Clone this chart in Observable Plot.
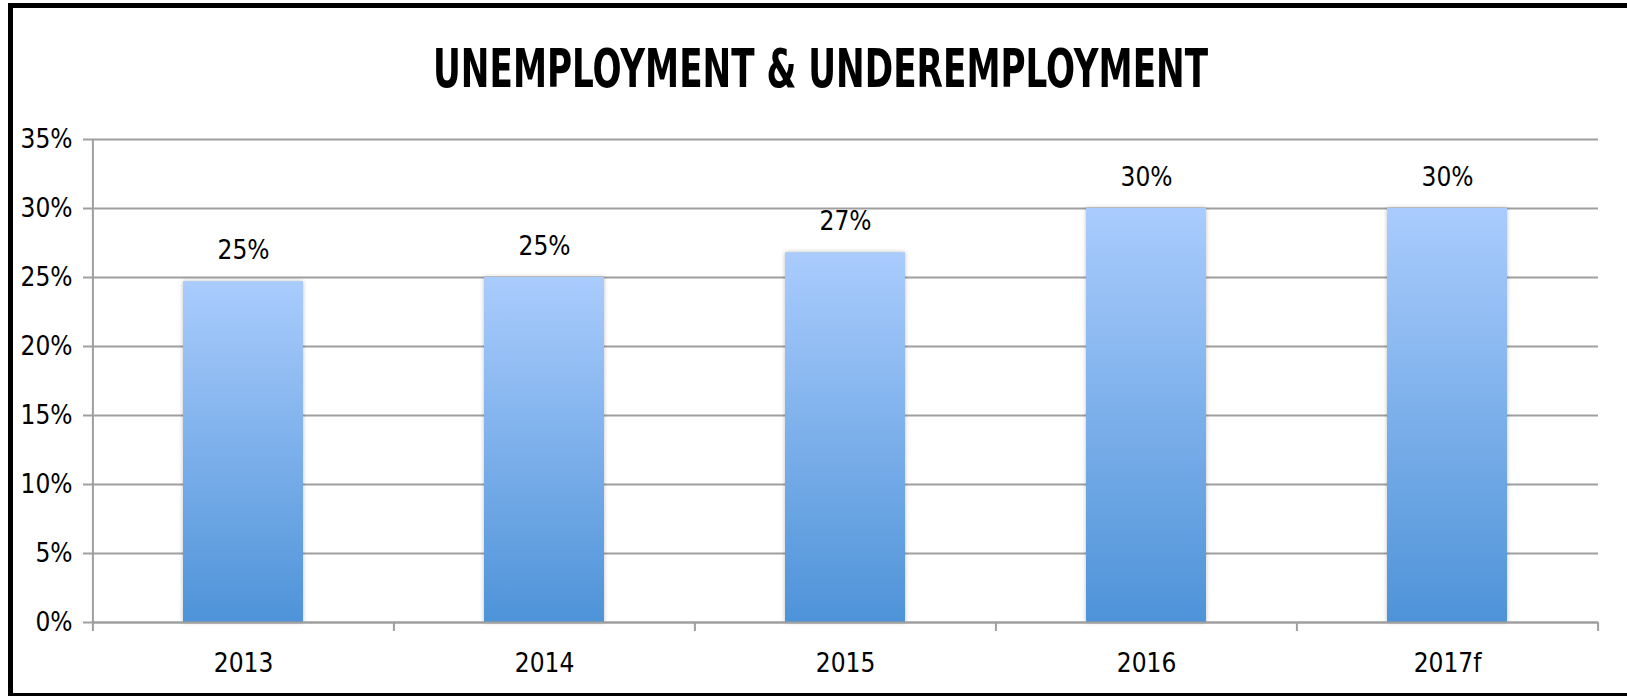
<!DOCTYPE html>
<html>
<head>
<meta charset="utf-8">
<script src="https://cdn.jsdelivr.net/npm/d3@7"></script>
<script src="https://cdn.jsdelivr.net/npm/@observablehq/plot@0.6"></script>
<style>
  html, body { margin: 0; padding: 0; background: #fff; overflow: hidden; width: 1627px; height: 696px; }
  #frame { position: absolute; left: 8px; top: 3px; width: 1700px; height: 695px; box-sizing: border-box; border: 5px solid #000; z-index: 10; pointer-events: none; background: transparent; }
  #chart { position: absolute; left: 0; top: 0; width: 1627px; z-index: 1; }
  #title { position: relative; height: 110px; width: 1641px; text-align: center; }
  #title span { position: absolute; left: 0; width: 1641px; top: 42px; display: block;
    font-family: "DejaVu Sans Condensed", "DejaVu Sans", sans-serif; font-stretch: condensed;
    font-weight: bold; font-size: 53px; line-height: 53px; color: #000; white-space: nowrap; }
  #title span i { font-style: normal; display: inline-block; transform-origin: center; }
</style>
</head>
<body>
<div id="chart">
  <div id="title"><span><i id="titletext">UNEMPLOYMENT &amp; UNDEREMPLOYMENT</i></span></div>
  <div id="plot"></div>
</div>
<div id="frame"></div>
<script>
const years = ["2013", "2014", "2015", "2016", "2017f"];
const values = [24.7, 25.0, 26.8, 30.0, 30.0];
const yTicks = [0, 5, 10, 15, 20, 25, 30, 35];

const data = years.map((year, i) => ({year, value: values[i], label: Math.round(values[i]) + "%"}));

const W = 1627, H = 586, mL = 92, mR = 29, mT = 29, mB = 74;
const step = (W - mL - mR) / years.length;
const gridColor = "#9f9f9f";
const font = "'Liberation Sans Narrow', 'DejaVu Sans Condensed', sans-serif";

const plot = Plot.plot({
  width: W, height: H,
  marginLeft: mL, marginRight: mR, marginTop: mT, marginBottom: mB,
  style: {fontFamily: font, fontSize: "25px", color: "#000", background: "#fff", overflow: "visible"},
  x: {type: "band", domain: years, paddingInner: 0.6, paddingOuter: 0.3, label: null},
  y: {domain: [0, 35], label: null},
  marks: [
    Plot.gridY(yTicks, {stroke: gridColor, strokeOpacity: 1, strokeWidth: 2}),
    Plot.ruleX([years[0]], {x: d => d, dx: -step / 2, stroke: gridColor, strokeWidth: 2}),
    Plot.ruleX(years, {x: d => d, dx: -step / 2, y1: 0, y2: 0, insetBottom: -9, stroke: gridColor, strokeWidth: 2}),
    Plot.ruleX([years[years.length - 1]], {x: d => d, dx: step / 2, y1: 0, y2: 0, insetBottom: -9, stroke: gridColor, strokeWidth: 2}),
    Plot.barY(data, {x: "year", y: "value", fill: "url(#barGrad)"}),
    Plot.gridY([0], {stroke: gridColor, strokeOpacity: 1, strokeWidth: 2}),
    Plot.text(data, {x: "year", y: "value", text: "label", dy: -31, fill: "#000", fontSize: 26}),
    Plot.axisY({ticks: yTicks, tickFormat: d => d + "%", tickSize: 9, tickPadding: 11, stroke: gridColor, strokeWidth: 2, fill: "#000", fontSize: 26, label: null}),
    Plot.axisX({tickSize: 0, tickPadding: 31, fill: "#000", fontSize: 26, label: null})
  ]
});

const defs = d3.create("svg:defs");
const grad = defs.append("linearGradient").attr("id", "barGrad").attr("x1", 0).attr("y1", 0).attr("x2", 0).attr("y2", 1);
grad.append("stop").attr("offset", "0%").attr("stop-color", "#aaccfd");
grad.append("stop").attr("offset", "100%").attr("stop-color", "#4e93d8");
plot.insertBefore(defs.node(), plot.firstChild);
d3.select(plot).selectAll('g[aria-label="bar"] rect').style("filter", "drop-shadow(0px 0px 2px rgba(0,0,0,0.25))");

document.getElementById("plot").appendChild(plot);

// fit title to reference width
const t = document.getElementById("titletext");
const w = t.getBoundingClientRect().width;
t.style.transform = `scaleX(${775 / w})`;
</script>
</body>
</html>
